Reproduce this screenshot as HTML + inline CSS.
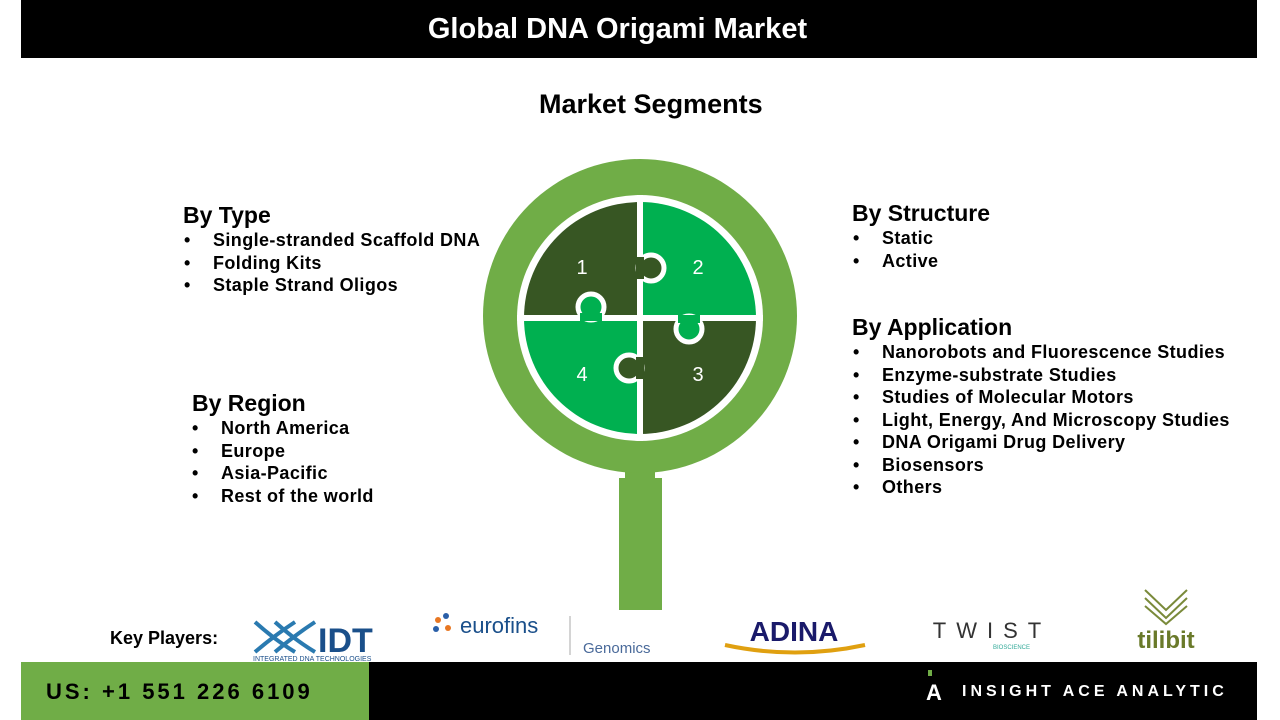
<!DOCTYPE html>
<html><head><meta charset="utf-8"><style>
body{margin:0;width:1280px;height:720px;position:relative;background:#fff;font-family:"Liberation Sans",Arial,sans-serif;overflow:hidden}
.t{position:absolute;font-weight:bold;color:#000;white-space:nowrap}
.h{font-size:23px}
.i{font-size:18px;line-height:22.5px;letter-spacing:0.4px}
.i span{display:inline-block;width:29px;letter-spacing:0}
</style></head><body>
<div style="position:absolute;left:21px;top:0;width:1236px;height:58px;background:#000"></div>
<div class="t" style="left:0;width:1235px;top:13px;text-align:center;color:#fff;font-size:29px">Global DNA Origami Market</div>
<div class="t" style="left:539px;top:89px;font-size:27px">Market Segments</div>

<div class="t h" style="left:183px;top:202px">By Type</div>
<div class="t i" style="left:184px;top:229px"><span>•</span>Single-stranded Scaffold DNA<br><span>•</span>Folding Kits<br><span>•</span>Staple Strand Oligos</div>

<div class="t h" style="left:192px;top:390px">By Region</div>
<div class="t i" style="left:192px;top:417px"><span>•</span>North America<br><span>•</span>Europe<br><span>•</span>Asia-Pacific<br><span>•</span>Rest of the world</div>

<div class="t h" style="left:852px;top:200px">By Structure</div>
<div class="t i" style="left:853px;top:227px"><span>•</span>Static<br><span>•</span>Active</div>

<div class="t h" style="left:852px;top:314px">By Application</div>
<div class="t i" style="left:853px;top:341px"><span>•</span>Nanorobots and Fluorescence Studies<br><span>•</span>Enzyme-substrate Studies<br><span>•</span>Studies of Molecular Motors<br><span>•</span>Light, Energy, And Microscopy Studies<br><span>•</span>DNA Origami Drug Delivery<br><span>•</span>Biosensors<br><span>•</span>Others</div>

<svg style="position:absolute;left:0;top:0" width="1280" height="720">
<defs><clipPath id="c"><circle cx="640" cy="318" r="116"/></clipPath></defs>
<rect x="625" y="460" width="30" height="22" fill="#70ad47"/>
<rect x="619" y="478" width="43" height="132" fill="#70ad47"/>
<circle cx="640" cy="316" r="157" fill="#70ad47"/>
<circle cx="640" cy="318" r="123" fill="#fff"/>
<g clip-path="url(#c)">
<rect x="520" y="198" width="120" height="120" fill="#375623"/>
<rect x="640" y="198" width="120" height="120" fill="#00b050"/>
<rect x="640" y="318" width="120" height="120" fill="#375623"/>
<rect x="520" y="318" width="120" height="120" fill="#00b050"/>
</g>
<g stroke="#fff" stroke-width="6">
<line x1="640" y1="195" x2="640" y2="441"/><line x1="517" y1="318" x2="763" y2="318"/>
</g>
<g stroke="#fff" stroke-width="5">
<circle cx="651" cy="268" r="13" fill="#375623"/>
<circle cx="591" cy="307" r="13" fill="#00b050"/>
<circle cx="689" cy="329" r="13" fill="#00b050"/>
<circle cx="629" cy="368" r="13" fill="#375623"/>
</g>
<rect x="636" y="257" width="8" height="22" fill="#375623"/>
<rect x="580" y="313" width="22" height="8" fill="#00b050"/>
<rect x="678" y="315" width="22" height="8" fill="#00b050"/>
<rect x="636" y="357" width="8" height="22" fill="#375623"/>
<g fill="#fff" font-family="Liberation Sans" font-size="20" text-anchor="middle">
<text x="582" y="274">1</text><text x="698" y="274">2</text><text x="698" y="381">3</text><text x="582" y="381">4</text>
</g>
<text x="110" y="644" font-family="Liberation Sans" font-weight="bold" font-size="18">Key Players:</text>
<path d="M255 622 Q275 640 295 652 M255 652 Q275 635 295 622 M275 622 Q295 640 315 652 M275 652 Q295 635 315 622" stroke="#2a7ab0" stroke-width="4" fill="none"/>
<text x="318" y="652" font-family="Liberation Sans" font-weight="bold" font-size="34" fill="#1a4f8a">IDT</text>
<text x="253" y="661" font-family="Liberation Sans" font-size="7" fill="#1a4f8a">INTEGRATED DNA TECHNOLOGIES</text>
<circle cx="438" cy="620" r="3" fill="#e87722"/><circle cx="446" cy="616" r="3" fill="#2a5fa8"/><circle cx="436" cy="629" r="3" fill="#2a5fa8"/><circle cx="448" cy="628" r="3" fill="#e87722"/>
<text x="460" y="633" font-family="Liberation Sans" font-size="22" fill="#1a4f8a">eurofins</text>
<line x1="570" y1="616" x2="570" y2="655" stroke="#aaa"/>
<text x="583" y="653" font-family="Liberation Sans" font-size="15" fill="#4a6a9a">Genomics</text>
<text x="794" y="641" text-anchor="middle" font-family="Liberation Sans" font-weight="bold" font-size="28" fill="#1a1a6a">ADINA</text>
<path d="M725 645 Q795 660 865 645" stroke="#e0a010" stroke-width="4" fill="none"/>
<text x="992" y="638" text-anchor="middle" font-family="Liberation Sans" font-size="22" letter-spacing="10" fill="#333">TWIST</text>
<text x="993" y="649" font-family="Liberation Sans" font-size="6" fill="#3a9">BIOSCIENCE</text>
<path d="M1145 590 L1166 610 L1187 590 M1145 598 L1166 618 L1187 598 M1145 606 L1166 624 L1187 606" stroke="#7a8a3a" stroke-width="2" fill="none"/>
<text x="1166" y="648" text-anchor="middle" font-family="Liberation Sans" font-weight="bold" font-size="24" fill="#6a7a2a">tilibit</text>
</svg>

<div style="position:absolute;left:21px;top:662px;width:348px;height:58px;background:#70ad47"></div>
<div style="position:absolute;left:369px;top:662px;width:888px;height:58px;background:#000"></div>
<div class="t" style="left:46px;top:679px;font-size:22px;letter-spacing:3px">US: +1 551 226 6109</div>
<div style="position:absolute;left:928px;top:670px;width:4px;height:6px;background:#70ad47"></div>
<div class="t" style="left:926px;top:680px;color:#fff;font-size:22px">A</div>
<div class="t" style="left:962px;top:683px;color:#fff;font-size:16px;letter-spacing:4px">INSIGHT ACE ANALYTIC</div>
</body></html>
